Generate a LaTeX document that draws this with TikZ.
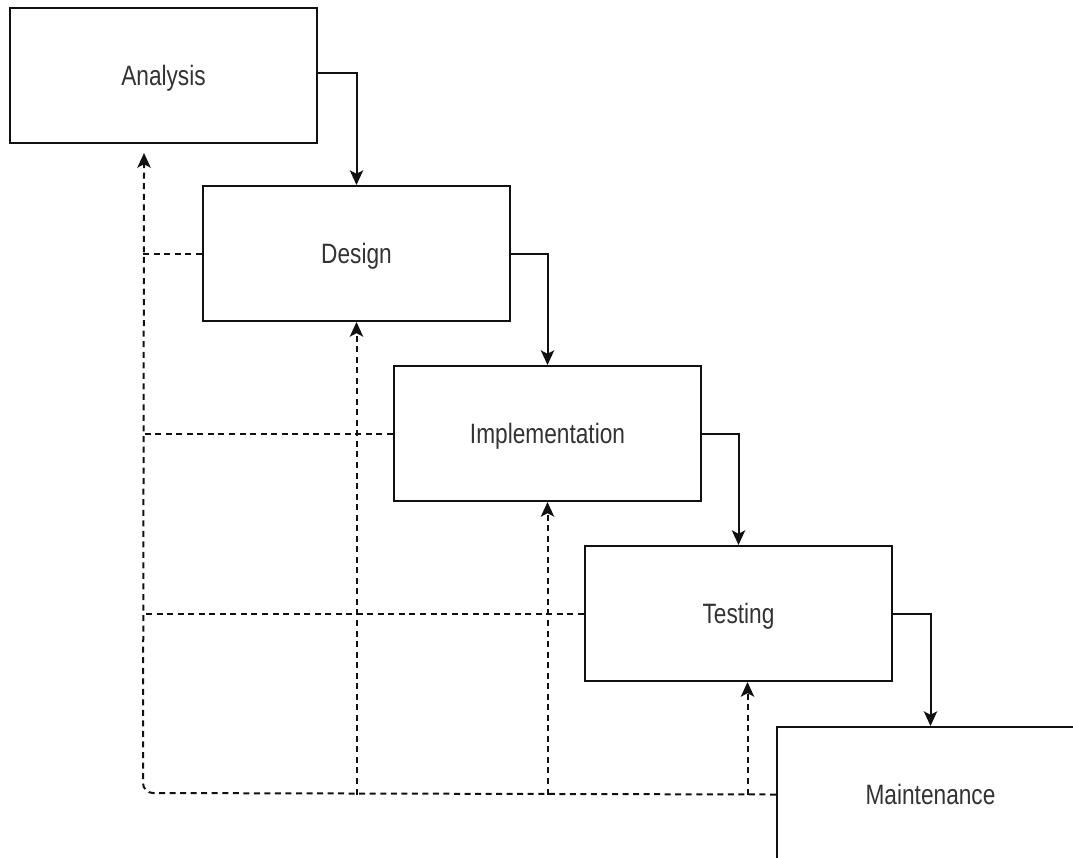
\documentclass[tikz,border=0pt]{standalone}
\usepackage{fontspec}
\setmainfont{Liberation Sans}
\usetikzlibrary{arrows.meta}
\definecolor{ink}{HTML}{111111}
\definecolor{lbl}{HTML}{333333}
\newcommand\phasetext[1]{\scalebox{0.81}[1]{#1}}
\tikzset{
  phase/.style={draw=ink, line width=1.5pt, rectangle, inner sep=0pt,
    minimum width={307*0.75pt}, minimum height={135*0.75pt}, anchor=north west,
    text=lbl, font=\fontsize{21pt}{25pt}\selectfont, text height=15pt, text depth=0pt},
  arrowtip/.style={-{Stealth[length=11pt,width=10pt,inset=2.6pt]}},
  flow/.style={draw=ink, arrowtip},
  back/.style={draw=ink, dash pattern=on 4.5pt off 3.4pt},
}
\begin{document}
\begin{tikzpicture}[x=0.75pt,y=-0.75pt]
  \useasboundingbox (0,0) rectangle (1073,857);
  \clip (0,0) rectangle (1073,857);
  \fill[white] (0,0) rectangle (1073,857);

  % waterfall phases
  \node[phase] (A) at (9,7)     {\phasetext{Analysis}};
  \node[phase] (D) at (202,185) {\phasetext{Design}};
  \node[phase] (I) at (393,365) {\phasetext{Implementation}};
  \node[phase] (T) at (584,545) {\phasetext{Testing}};
  \node[phase] (M) at (776,726) {\phasetext{Maintenance}};

  \begin{scope}[line width=1.5pt]
  % forward flow between phases
  \draw[flow] ([yshift=1.9pt]A.east) -| (D.north);
  \draw[flow] (D.east) -| (I.north);
  \draw[flow] (I.east) -| (T.north);
  \draw[flow] (T.east) -| (M.north);

  % feedback from maintenance back to earlier phases
  \coordinate (corner) at (143,793);
  \coordinate (tipA) at ([xshift=-14.6pt,yshift=-6.75pt]A.south);
  \coordinate (tipT) at ([xshift=6.75pt]T.south);
  \draw[back, arrowtip, rounded corners=7.5pt] (M.west) -- (corner) -- (tipA);
  \draw[back, arrowtip] (M.west -| tipT) -- (tipT);
  \draw[back, arrowtip] (M.west -| I.south) -- (I.south);
  \draw[back, arrowtip] (M.west -| D.south) -- (D.south);

  % earlier phases joining the feedback line
  \draw[back] (D.west) -- (D.west -| corner);
  \draw[back] (I.west) -- (I.west -| corner);
  \draw[back] (T.west) -- (T.west -| corner);
  \end{scope}
\end{tikzpicture}
\end{document}
